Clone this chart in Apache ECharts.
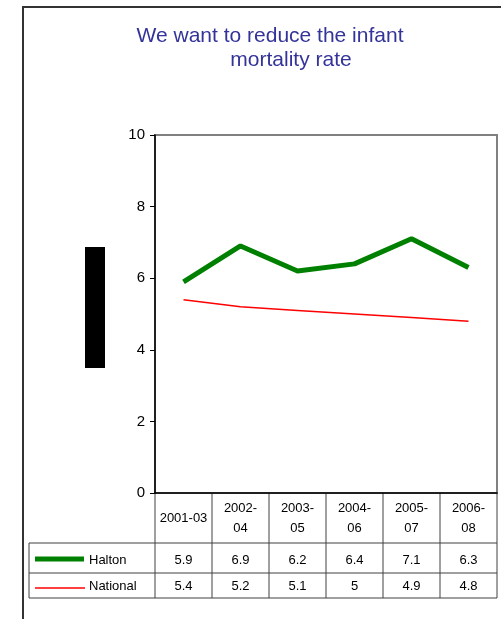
<!DOCTYPE html>
<html><head><meta charset="utf-8">
<script src="https://cdn.jsdelivr.net/npm/echarts@6/dist/echarts.min.js"></script>
<style>html,body{margin:0;padding:0;background:#fff}#c{width:501px;height:619px}</style>
</head><body><div id="c"></div>
<script>
var categories = ['2001-03','2002-04','2003-05','2004-06','2005-07','2006-08'];
var headerLabels = ['2001-03','2002-\n04','2003-\n05','2004-\n06','2005-\n07','2006-\n08'];
var halton = [5.9, 6.9, 6.2, 6.4, 7.1, 6.3];
var national = [5.4, 5.2, 5.1, 5, 4.9, 4.8];
var seriesNames = ['Halton', 'National'];
var titleLines = ['We want to reduce the infant', 'mortality rate'];

var FONT = '"Liberation Sans", Arial, sans-serif';
var GL = 155, GT = 135, GR = 497, GB = 493;
var colW = (GR - GL) / categories.length;
var row1Top = 543, row2Top = 573, tableBottom = 598, tableLeft = 29;
var lineColor = '#404040';

var graphics = [];
// outer frame
graphics.push({type:'polyline', shape:{points:[[23,619],[23,7],[501,7]]}, style:{stroke:'#333', lineWidth:2, fill:null}, silent:true});
// black box (axis title artifact)
graphics.push({type:'rect', shape:{x:85, y:247, width:20, height:121}, style:{fill:'#000'}});
// table lines
function hline(x1,x2,y,w){graphics.push({type:'line', shape:{x1:x1,y1:y,x2:x2,y2:y}, style:{stroke:lineColor, lineWidth:w||1}});}
function vline(x,y1,y2,w){graphics.push({type:'line', shape:{x1:x,y1:y1,x2:x,y2:y2}, style:{stroke:lineColor, lineWidth:w||1}});}
hline(tableLeft, GR, row1Top);
hline(tableLeft, GR, row2Top);
hline(tableLeft, GR, tableBottom);
vline(tableLeft, row1Top, tableBottom);
for (var i = 0; i <= categories.length; i++) {
  vline(GL + i * colW, GB, tableBottom);
}
// legend keys
graphics.push({type:'line', shape:{x1:35,y1:559,x2:84,y2:559}, style:{stroke:'#008000', lineWidth:5}});
graphics.push({type:'line', shape:{x1:35,y1:588,x2:85,y2:588}, style:{stroke:'#ff0000', lineWidth:1.5}});
var rowsMid = [(row1Top + row2Top) / 2 + 2, (row2Top + tableBottom) / 2 + 1];
graphics.push({type:'text', x:89, y:rowsMid[0], style:{text:seriesNames[0], font:'13px ' + FONT, fill:'#000', verticalAlign:'middle'}});
graphics.push({type:'text', x:89, y:rowsMid[1], style:{text:seriesNames[1], font:'13px ' + FONT, fill:'#000', verticalAlign:'middle'}});
[halton, national].forEach(function(arr, r){
  arr.forEach(function(v, i){
    graphics.push({type:'text', x:GL + (i + 0.5) * colW, y:rowsMid[r], style:{text:String(v), font:'13px ' + FONT, fill:'#000', align:'center', verticalAlign:'middle'}});
  });
});

var chart = echarts.init(document.getElementById('c'), null, {renderer:'canvas'});
chart.setOption({
  animation:false,
  backgroundColor:'#fff',
  title:[
    {text:titleLines[0], left:265, top:21, textAlign:'center', textStyle:{color:'#333399', fontSize:21, fontWeight:'normal', fontFamily:FONT}},
    {text:titleLines[1], left:286, top:45, textAlign:'center', textStyle:{color:'#333399', fontSize:21, fontWeight:'normal', fontFamily:FONT}}
  ],
  grid:{left:GL, top:GT, right:501-GR, bottom:619-GB, show:true, borderColor:'#808080', borderWidth:2, backgroundColor:'#fff'},
  xAxis:{type:'category', data:headerLabels, boundaryGap:true,
    axisLine:{show:true, lineStyle:{color:'#000', width:1.5}},
    axisTick:{show:false},
    axisLabel:{show:true, interval:0, margin:25, verticalAlign:'middle', lineHeight:20, fontSize:13, color:'#000', fontFamily:FONT},
    splitLine:{show:false}},
  yAxis:{type:'value', min:0, max:10, interval:2,
    axisLine:{show:true, lineStyle:{color:'#000', width:1.5}},
    axisTick:{show:true, length:5, lineStyle:{color:'#000'}},
    axisLabel:{margin:10, fontSize:15, color:'#000', fontFamily:FONT},
    splitLine:{show:false}},
  series:[
    {name:seriesNames[0], type:'line', data:halton, showSymbol:false, symbol:'none', lineStyle:{color:'#008000', width:5}, itemStyle:{color:'#008000'}},
    {name:seriesNames[1], type:'line', data:national, showSymbol:false, symbol:'none', lineStyle:{color:'#ff0000', width:1.5}, itemStyle:{color:'#ff0000'}}
  ],
  graphic:graphics
});
</script></body></html>
